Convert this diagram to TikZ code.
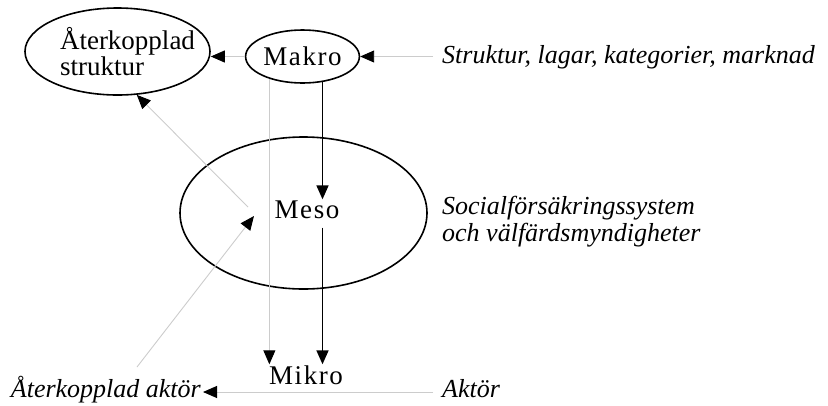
\documentclass[tikz,border=0pt]{standalone}
\usepackage{fontspec}
\setmainfont{Liberation Serif}
\newfontfamily\lvlfont[LetterSpace=6]{Liberation Serif}
\usetikzlibrary{arrows.meta,shapes.geometric}

\begin{document}
\begin{tikzpicture}[x=1pt, y=-1pt,
  every node/.style={font=\fontsize{27}{26}\selectfont},
  ring/.style={ellipse, draw, line width=1.6pt, inner sep=0pt},
  level/.style={font=\fontsize{27}{26}\selectfont\lvlfont, inner sep=1pt},
  note/.style={font=\fontsize{26}{27}\selectfont\itshape, align=left, inner sep=0pt},
  feed/.style={-{Triangle[black,length=14pt,width=12pt]}, draw=black!20, line width=0.9pt},
  flow/.style={-{Triangle[length=14pt,width=12pt]}, draw=black, line width=1.7pt}]
  \useasboundingbox (0,0) rectangle (828,405);

  % levels
  \node[ring, align=left, inner xsep=-15pt, inner ysep=-4pt, minimum width=185pt, minimum height=87pt] (aterstr) at (117.5,51.5) {\hspace*{20pt}Återkopplad\\\hspace*{20pt}struktur};
  \node[ring, level, minimum width=99pt, minimum height=53pt] (makro) at (302.5,56.5) {Makro};
  \node[ring, minimum width=247pt, minimum height=152pt] (mesoring) at (303.5,213) {};
  \node[level] (meso) at (307,209.5) {Meso};
  \node[level] (mikro) at (306,375) {Mikro};

  % notes
  \node[note, anchor=base west] (strukt) at (442,63) {Struktur, lagar, kategorier, marknad};
  \node[note, anchor=west] (social) at (442,222) {Socialförsäkringssystem\\och välfärdsmyndigheter};
  \node[note, anchor=base west] (aktor) at (442,397) {Aktör};
  \node[note, anchor=base east] (ataktor) at (201,397) {Återkopplad aktör};

  \coordinate (feedfoot) at (137,367);
  \coordinate (feedtip) at (254,216);
  \coordinate (strfoot) at (248,207);

  % connectors
  \draw[feed] ([xshift=-9pt]strukt.west |- makro.east) -- (makro.east);
  \draw[feed] (makro.west) -- (makro.west -| aterstr.east);
  \draw[feed] (makro.-146) -- (makro.-146 |- mikro.north);
  \draw[flow] (makro.-52) -- (makro.-52 |- meso.north);
  \draw[flow, shorten <=8pt] (makro.-52 |- meso.south) -- (makro.-52 |- mikro.north);
  \draw[feed] ([xshift=-9pt,yshift=5pt]aktor.base west) -- ([xshift=2pt,yshift=5pt]ataktor.base east);
  \draw[feed] (feedfoot) -- (feedtip);
  \draw[feed] (strfoot) -- (aterstr.-66);
\end{tikzpicture}
\end{document}
